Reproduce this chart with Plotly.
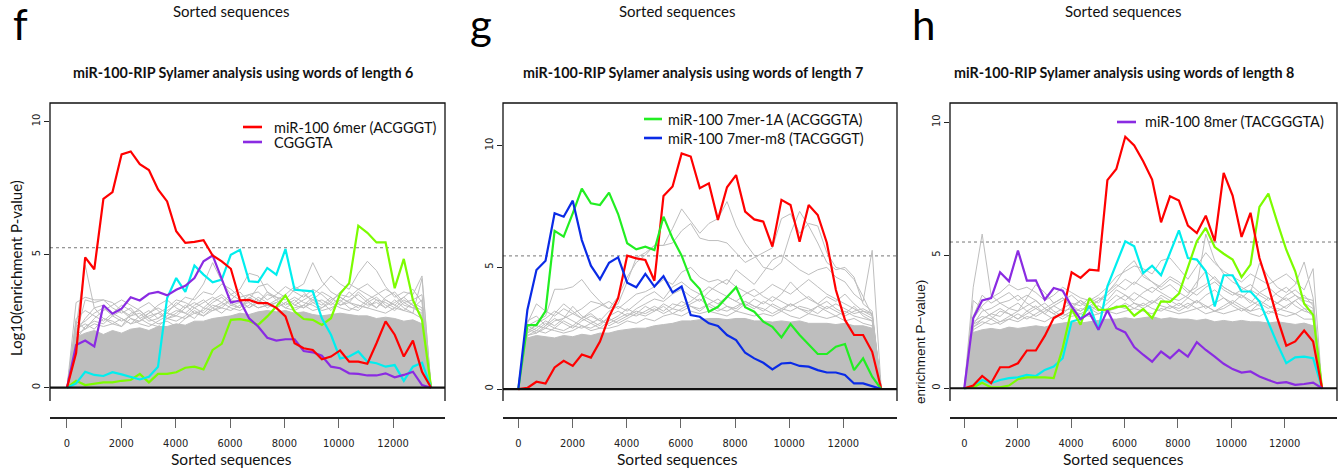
import plotly.graph_objects as go

W, H = 1340, 472

# ---------------- data ----------------
SEQ_POS = [0, 335, 670, 1005, 1340, 1675, 2010, 2345, 2680, 3015, 3350, 3685, 4020,
           4355, 4690, 5025, 5360, 5695, 6030, 6365, 6700, 7035, 7370, 7705, 8040,
           8375, 8710, 9045, 9380, 9715, 10050, 10385, 10720, 11055, 11390, 11725,
           12060, 12395, 12730, 13065, 13400]
X_TICKS = [0, 2000, 4000, 6000, 8000, 10000, 12000]
Y_TICKS = [0, 5, 10]

# panel f (words of length 6)
f_red = [0, 1.3, 4.9, 4.45, 7.1, 7.35, 8.77, 8.88, 8.4, 8.18, 7.45, 7.0, 5.88, 5.44, 5.48, 5.54, 4.97, 4.75, 4.47, 3.28, 3.3, 3.18, 3.18, 3.0, 2.68, 1.67, 1.48, 1.42, 1.07, 1.17, 1.4, 0.98, 0.98, 0.9, 1.67, 2.49, 1.99, 1.17, 1.77, 0.6, 0]
f_purple = [0, 1.6, 1.77, 1.55, 3.1, 2.78, 2.97, 3.4, 3.28, 3.53, 3.6, 3.47, 3.68, 3.83, 4.12, 4.75, 4.97, 4.06, 3.2, 3.28, 2.61, 2.3, 1.88, 1.77, 1.82, 1.82, 1.38, 1.33, 1.2, 0.79, 0.73, 0.54, 0.52, 0.46, 0.46, 0.54, 0.39, 0.48, 0.6, 0.1, 0]
f_cyan = [0, 0.16, 0.6, 0.48, 0.44, 0.58, 0.5, 0.41, 0.31, 0.41, 0.79, 3.37, 4.12, 3.6, 4.59, 4.25, 3.96, 4.06, 5.0, 5.18, 4.0, 3.97, 4.5, 4.25, 5.21, 3.68, 3.66, 3.62, 2.61, 1.99, 1.1, 1.17, 1.36, 0.98, 0.92, 0.79, 0.85, 0.26, 0.79, 0.94, 0]
f_green = [0, 0.26, 0.1, 0.14, 0.2, 0.2, 0.26, 0.29, 0.52, 0.2, 0.52, 0.52, 0.58, 0.75, 0.79, 0.69, 1.42, 1.65, 2.55, 2.58, 2.51, 2.36, 2.68, 3.05, 3.47, 2.86, 2.58, 2.55, 2.36, 2.61, 3.53, 3.93, 6.09, 5.82, 5.46, 5.46, 3.74, 4.84, 3.3, 2.55, 0]
f_core = [0, 1.9, 2.05, 2.15, 2.0, 2.15, 2.05, 2.2, 2.25, 2.15, 2.3, 2.3, 2.4, 2.35, 2.5, 2.5, 2.6, 2.65, 2.7, 2.8, 2.75, 2.85, 2.9, 2.85, 2.9, 2.8, 2.85, 2.75, 2.7, 2.75, 2.8, 2.75, 2.7, 2.7, 2.6, 2.65, 2.6, 2.5, 2.55, 2.4, 0]
f_gray1 = [0, 3.2, 3.4, 3.3, 3.3, 3.2, 2.9, 2.7, 2.8, 2.5, 2.6, 2.9, 3.1, 3.4, 3.3, 3.6, 3.5, 3.9, 3.7, 3.4, 3.5, 3.6, 3.3, 3.5, 3.8, 3.6, 3.4, 3.7, 3.5, 3.2, 3.6, 3.9, 3.7, 3.5, 3.3, 3.2, 3.0, 3.3, 3.1, 2.9, 0]
f_gray2 = [0, 2.4, 4.6, 3.0, 2.6, 2.4, 2.3, 2.6, 2.5, 2.8, 3.0, 2.8, 3.2, 3.0, 3.4, 3.9, 4.7, 4.0, 3.5, 3.7, 4.3, 4.2, 3.6, 3.4, 3.3, 3.7, 3.9, 4.7, 4.0, 3.6, 3.4, 3.2, 3.6, 3.3, 3.0, 3.4, 3.6, 3.2, 3.0, 3.3, 0]
f_gray3 = [0, 2.1, 2.6, 3.0, 3.1, 2.8, 2.6, 2.4, 2.7, 2.9, 2.6, 2.8, 2.7, 3.0, 3.2, 3.0, 3.3, 3.5, 3.2, 3.0, 3.3, 3.8, 3.9, 3.6, 3.4, 3.1, 3.3, 3.5, 3.8, 4.2, 3.9, 3.7, 4.3, 4.75, 4.4, 3.8, 3.4, 3.6, 3.5, 4.2, 0]
f_gray4 = [0, 1.8, 2.3, 2.5, 2.4, 2.7, 2.9, 2.6, 2.4, 2.3, 2.5, 2.7, 2.9, 2.8, 2.6, 3.0, 2.9, 3.1, 3.3, 3.6, 3.2, 3.0, 3.1, 3.3, 3.5, 3.8, 3.6, 3.2, 3.0, 3.3, 3.5, 3.4, 3.7, 3.9, 3.6, 3.3, 3.1, 3.4, 3.7, 3.2, 0]
f_gray5 = [0, 2.0, 3.3, 3.2, 3.3, 3.0, 2.8, 3.0, 2.6, 2.4, 2.3, 2.6, 2.5, 2.7, 3.0, 3.2, 3.4, 3.2, 3.0, 2.9, 3.1, 3.4, 3.2, 3.0, 3.2, 3.4, 3.2, 3.1, 2.9, 3.0, 3.2, 3.6, 3.3, 3.1, 3.2, 3.0, 3.3, 3.0, 2.8, 4.1, 0]
f_gray6 = [0, 2.2, 2.4, 2.2, 2.6, 2.5, 2.3, 2.8, 2.9, 2.6, 2.4, 2.5, 2.3, 2.6, 2.9, 2.7, 3.0, 2.8, 3.1, 3.0, 3.4, 3.2, 3.5, 3.4, 3.1, 3.3, 3.0, 3.3, 3.6, 3.4, 3.1, 3.2, 3.0, 3.3, 3.5, 3.7, 3.5, 3.1, 3.0, 2.8, 0]
f_gray7 = [0, 2.6, 2.9, 2.7, 2.5, 2.8, 3.1, 2.9, 2.6, 2.8, 3.1, 3.3, 3.0, 2.8, 3.1, 3.3, 3.0, 3.2, 3.5, 3.3, 3.0, 3.2, 3.6, 3.3, 3.0, 3.2, 3.5, 3.3, 3.1, 3.4, 3.1, 3.3, 3.5, 3.2, 3.0, 3.3, 3.1, 2.9, 3.2, 3.0, 0]
f_gray8 = [0, 2.3, 2.5, 2.8, 3.0, 2.7, 2.5, 2.7, 3.0, 3.2, 2.9, 2.6, 2.8, 3.1, 2.8, 2.9, 3.2, 3.4, 3.1, 3.2, 3.0, 3.3, 3.1, 3.2, 3.4, 3.1, 3.0, 3.2, 3.3, 3.1, 3.4, 3.2, 3.1, 3.0, 3.3, 3.0, 3.2, 3.4, 3.1, 2.7, 0]
f_gray9 = [0, 2.0, 2.2, 2.4, 2.3, 2.4, 2.6, 2.4, 2.5, 2.7, 2.8, 2.6, 2.7, 2.6, 2.8, 2.7, 2.9, 3.0, 2.9, 3.1, 3.2, 3.0, 3.1, 3.0, 3.2, 3.0, 3.1, 2.9, 3.0, 3.2, 3.0, 2.9, 3.1, 3.0, 2.9, 2.8, 3.0, 2.9, 2.8, 2.6, 0]
f_gray10 = [0, 2.5, 2.2, 2.6, 2.9, 3.1, 3.3, 3.1, 2.9, 2.6, 2.8, 3.0, 3.3, 3.2, 3.0, 2.8, 3.1, 3.0, 3.3, 3.2, 3.5, 3.3, 3.0, 3.2, 3.0, 2.9, 3.1, 3.4, 3.2, 2.9, 3.3, 3.0, 2.9, 3.2, 3.4, 3.1, 2.9, 3.2, 3.3, 3.5, 0]
f_threshold = 5.26

# panel g (words of length 7)
g_red = [0, 0.05, 0.3, 0.23, 0.89, 1.16, 0.95, 1.42, 1.29, 1.95, 2.97, 3.73, 5.48, 5.37, 5.3, 4.45, 7.93, 8.32, 9.68, 9.55, 8.25, 8.45, 6.95, 8.29, 8.79, 7.29, 6.97, 6.88, 5.85, 7.77, 7.56, 6.05, 7.56, 7.15, 6.01, 4.07, 2.84, 2.22, 2.22, 1.53, 0]
g_green = [0, 2.63, 2.63, 3.2, 6.5, 6.26, 7.22, 8.23, 7.63, 7.56, 8.07, 7.19, 5.99, 5.74, 5.85, 5.71, 7.08, 6.19, 5.48, 4.51, 4.11, 3.18, 3.38, 3.79, 4.18, 3.36, 3.18, 2.77, 2.56, 2.12, 2.67, 2.22, 1.81, 1.44, 1.44, 1.74, 1.85, 0.78, 1.26, 0.51, 0]
g_blue = [0, 3.25, 4.89, 5.27, 7.22, 7.08, 7.74, 6.12, 5.07, 4.51, 5.19, 5.41, 4.37, 4.18, 4.73, 4.21, 4.64, 3.97, 4.21, 3.04, 2.97, 2.7, 2.59, 2.22, 2.01, 1.49, 1.26, 1.08, 0.81, 1.05, 1.08, 0.95, 0.92, 0.78, 0.68, 0.68, 0.58, 0.23, 0.23, 0.1, 0]
g_core = [0, 2.1, 2.2, 2.15, 2.1, 2.2, 2.15, 2.25, 2.2, 2.3, 2.3, 2.4, 2.45, 2.5, 2.5, 2.6, 2.65, 2.7, 2.8, 2.8, 2.85, 2.9, 2.9, 2.85, 2.9, 2.9, 2.8, 2.8, 2.75, 2.8, 2.75, 2.8, 2.7, 2.7, 2.7, 2.65, 2.7, 2.6, 2.6, 2.5, 0]
g_gray1 = [0, 2.4, 2.6, 2.5, 2.8, 2.9, 3.1, 3.3, 3.6, 3.5, 3.3, 3.8, 4.6, 5.2, 5.5, 5.9, 5.9, 6.6, 7.4, 6.9, 6.4, 6.8, 7.0, 7.7, 6.7, 6.0, 5.5, 5.0, 4.9, 5.2, 6.4, 7.3, 6.7, 6.0, 5.2, 4.9, 5.0, 4.6, 3.5, 3.2, 0]
g_gray2 = [0, 2.6, 2.8, 3.0, 4.1, 4.1, 4.2, 4.5, 4.0, 3.6, 3.3, 3.5, 4.4, 5.4, 5.6, 5.9, 5.9, 6.0, 6.5, 6.8, 6.2, 6.1, 6.1, 6.0, 5.6, 5.2, 5.4, 5.6, 5.8, 7.0, 7.2, 6.4, 6.8, 6.7, 5.6, 5.0, 4.9, 4.5, 3.8, 3.0, 0]
g_gray3 = [0, 2.7, 3.5, 3.2, 3.0, 3.3, 3.1, 2.9, 3.2, 3.4, 3.6, 3.3, 3.6, 3.9, 4.0, 4.2, 4.5, 4.3, 4.8, 5.0, 4.6, 4.4, 4.5, 4.3, 4.9, 4.6, 4.3, 4.8, 5.3, 5.5, 5.2, 4.9, 4.7, 4.9, 5.0, 4.6, 4.4, 3.9, 3.6, 5.7, 0]
g_gray4 = [0, 2.3, 2.5, 2.8, 2.6, 2.9, 3.4, 3.0, 2.8, 2.6, 3.0, 3.2, 3.0, 3.3, 3.5, 3.7, 3.6, 3.9, 4.1, 3.8, 3.6, 4.0, 4.3, 4.5, 4.2, 4.0, 3.8, 4.0, 4.3, 4.1, 3.9, 4.2, 4.5, 4.2, 3.9, 3.7, 3.5, 3.3, 3.1, 2.9, 0]
g_gray5 = [0, 2.5, 2.3, 2.6, 2.9, 2.7, 2.5, 2.8, 3.0, 2.8, 2.7, 2.9, 3.1, 3.0, 3.2, 3.4, 3.2, 3.5, 3.4, 3.6, 3.9, 3.7, 3.5, 3.8, 3.6, 3.4, 3.7, 3.5, 3.8, 3.6, 3.4, 3.6, 3.8, 3.5, 3.3, 3.5, 3.3, 3.1, 3.2, 3.0, 0]
g_gray6 = [0, 2.2, 2.4, 2.3, 2.5, 2.4, 2.6, 2.5, 2.7, 2.9, 2.6, 2.8, 3.0, 3.2, 3.1, 3.3, 3.1, 3.3, 3.2, 3.4, 3.3, 3.5, 3.3, 3.2, 3.4, 3.6, 3.4, 3.3, 3.1, 3.3, 3.5, 3.3, 3.2, 3.4, 3.2, 3.0, 3.2, 3.0, 2.9, 2.8, 0]
g_gray7 = [0, 2.6, 2.4, 2.7, 2.5, 2.8, 2.6, 2.9, 2.7, 2.5, 2.8, 3.0, 3.3, 3.1, 3.4, 3.2, 3.5, 3.3, 3.6, 3.4, 3.2, 3.5, 3.7, 3.4, 3.2, 3.5, 3.3, 3.6, 3.4, 3.2, 3.5, 3.3, 3.1, 3.4, 3.6, 3.3, 3.1, 3.4, 3.0, 2.8, 0]
g_gray8 = [0, 2.3, 2.7, 2.9, 3.2, 3.0, 2.8, 2.6, 2.5, 2.7, 2.9, 2.7, 2.9, 3.1, 3.0, 3.2, 3.4, 3.1, 3.3, 3.5, 3.7, 3.4, 3.2, 3.4, 3.3, 3.6, 3.4, 3.2, 3.5, 3.3, 3.2, 3.4, 3.3, 3.1, 3.4, 3.2, 3.0, 3.2, 3.3, 3.1, 0]
g_gray9 = [0, 2.2, 2.3, 2.5, 2.4, 2.3, 2.4, 2.6, 2.4, 2.5, 2.5, 2.6, 2.8, 2.7, 2.9, 2.8, 3.0, 3.1, 3.0, 3.2, 3.1, 3.2, 3.1, 3.0, 3.2, 3.1, 3.0, 3.1, 3.0, 3.2, 3.0, 2.9, 3.1, 3.0, 2.9, 3.0, 2.8, 2.9, 2.7, 2.6, 0]
g_gray10 = [0, 2.8, 3.0, 2.6, 3.1, 3.5, 3.2, 2.9, 3.1, 2.8, 3.2, 3.4, 3.2, 3.5, 3.8, 4.0, 3.7, 4.2, 4.4, 4.1, 3.9, 4.2, 4.0, 3.8, 3.6, 3.9, 4.1, 3.8, 3.6, 3.9, 4.4, 4.0, 3.7, 3.5, 3.8, 3.6, 3.9, 3.5, 3.2, 3.1, 0]
g_threshold = 5.47

# panel h (words of length 8)
h_red = [0, 0.1, 0.46, 0.19, 0.79, 0.79, 0.94, 1.42, 1.42, 1.97, 2.64, 2.83, 4.36, 4.15, 4.46, 4.43, 7.83, 8.25, 9.46, 9.13, 8.54, 7.85, 6.24, 7.22, 7.06, 6.12, 5.84, 6.49, 5.53, 8.1, 7.25, 5.69, 6.6, 4.9, 3.83, 2.64, 1.6, 1.76, 2.17, 1.76, 0]
h_cyan = [0, 0.03, 0.31, 0.19, 0.31, 0.38, 0.41, 0.5, 0.46, 0.69, 0.82, 1.13, 2.51, 2.6, 3.1, 2.2, 3.83, 4.71, 5.53, 5.34, 4.33, 4.61, 4.25, 5.09, 5.94, 4.9, 4.84, 4.4, 3.08, 4.25, 4.25, 3.64, 3.64, 3.27, 2.45, 1.67, 0.94, 1.16, 1.19, 1.13, 0]
h_green = [0, 0.03, 0.21, 0.03, 0.03, 0.1, 0.34, 0.41, 0.41, 0.41, 0.38, 1.51, 2.98, 2.39, 3.39, 2.95, 2.95, 3.05, 3.1, 2.73, 2.98, 2.64, 3.27, 3.25, 3.56, 4.59, 5.53, 6.03, 5.31, 5.06, 4.84, 4.18, 4.65, 6.82, 7.32, 6.24, 5.21, 4.4, 3.18, 2.76, 0]
h_purple = [0, 2.64, 3.3, 3.39, 4.36, 4.02, 5.18, 4.05, 4.06, 3.33, 3.77, 3.67, 3.08, 2.6, 2.83, 2.2, 2.93, 2.26, 2.1, 1.55, 1.26, 1.0, 1.38, 1.13, 1.44, 1.19, 1.73, 1.44, 1.19, 0.92, 0.72, 0.59, 0.63, 0.44, 0.31, 0.19, 0.23, 0.13, 0.16, 0.21, 0]
h_core = [0, 2.1, 2.2, 2.25, 2.2, 2.3, 2.25, 2.3, 2.35, 2.3, 2.4, 2.45, 2.5, 2.45, 2.5, 2.55, 2.6, 2.6, 2.65, 2.6, 2.65, 2.7, 2.6, 2.65, 2.6, 2.6, 2.55, 2.6, 2.5, 2.55, 2.5, 2.55, 2.5, 2.5, 2.45, 2.5, 2.45, 2.4, 2.45, 2.35, 0]
h_gray1 = [0, 3.8, 5.8, 3.5, 3.2, 3.0, 2.9, 3.1, 3.3, 3.0, 2.8, 3.0, 3.2, 3.1, 3.4, 3.2, 3.6, 4.0, 4.5, 4.8, 4.2, 4.0, 3.8, 4.1, 3.9, 3.6, 3.8, 5.8, 4.8, 4.3, 4.0, 3.8, 3.6, 4.7, 4.2, 3.8, 3.6, 3.9, 4.75, 3.4, 0]
h_gray2 = [0, 2.6, 3.1, 3.4, 3.6, 3.9, 3.7, 3.8, 3.6, 3.3, 3.5, 3.8, 3.6, 3.4, 3.3, 3.5, 3.8, 4.2, 4.4, 4.6, 4.5, 4.3, 4.8, 4.9, 4.5, 4.1, 4.6, 5.1, 4.7, 4.4, 4.2, 4.0, 4.3, 4.1, 3.9, 4.1, 4.3, 4.0, 3.7, 4.5, 0]
h_gray3 = [0, 2.4, 2.9, 3.0, 3.2, 3.3, 3.5, 3.2, 3.0, 2.8, 3.1, 3.3, 3.5, 3.2, 3.0, 3.3, 3.5, 3.8, 4.1, 3.9, 4.3, 4.0, 3.7, 3.9, 3.6, 3.4, 3.7, 3.9, 4.2, 3.8, 3.6, 3.4, 3.7, 3.5, 3.3, 3.6, 3.8, 3.5, 3.2, 3.0, 0]
h_gray4 = [0, 2.3, 2.6, 2.8, 2.7, 3.0, 3.2, 2.9, 2.7, 2.9, 3.1, 2.9, 3.0, 3.3, 3.1, 2.9, 3.2, 3.5, 3.3, 3.6, 3.4, 3.2, 3.5, 3.3, 3.1, 3.4, 3.2, 3.5, 3.7, 3.4, 3.2, 3.5, 3.3, 3.1, 3.4, 3.2, 3.0, 3.3, 3.5, 3.1, 0]
h_gray5 = [0, 2.5, 2.7, 2.6, 2.9, 2.8, 2.6, 2.8, 3.0, 3.2, 2.9, 2.7, 2.9, 2.8, 3.0, 3.1, 2.9, 3.1, 3.0, 3.2, 3.1, 3.3, 3.1, 3.0, 3.2, 3.0, 3.3, 3.1, 2.9, 3.1, 3.3, 3.1, 2.9, 3.2, 3.0, 3.2, 3.4, 3.1, 2.9, 2.8, 0]
h_gray6 = [0, 3.3, 3.0, 2.7, 2.5, 2.7, 2.9, 3.4, 3.9, 3.6, 3.2, 3.4, 3.0, 2.9, 3.2, 3.4, 3.3, 3.7, 3.5, 3.3, 3.6, 3.8, 3.6, 3.4, 3.3, 3.5, 4.0, 4.4, 4.1, 3.8, 3.6, 3.5, 3.2, 3.6, 3.8, 3.5, 3.3, 3.5, 3.3, 3.2, 0]
h_gray7 = [0, 2.4, 2.6, 2.8, 3.0, 2.8, 2.6, 2.9, 3.1, 2.8, 2.6, 2.8, 3.1, 3.3, 3.0, 2.8, 3.0, 3.3, 3.5, 3.2, 3.0, 3.2, 3.4, 3.1, 2.9, 3.1, 3.3, 3.0, 3.2, 3.4, 3.1, 2.9, 3.1, 3.3, 3.1, 2.9, 3.1, 3.3, 3.0, 2.9, 0]
h_gray8 = [0, 2.2, 2.4, 2.6, 2.4, 2.6, 2.8, 2.6, 2.8, 3.0, 2.8, 2.6, 2.8, 3.0, 2.9, 3.1, 2.9, 3.0, 3.2, 3.0, 3.2, 3.0, 2.9, 3.1, 3.0, 3.2, 3.0, 3.1, 2.9, 3.0, 3.2, 3.0, 2.9, 3.0, 2.8, 3.0, 2.9, 2.8, 3.0, 2.7, 0]
h_gray9 = [0, 2.7, 3.5, 3.2, 3.4, 3.6, 3.3, 3.5, 3.3, 3.0, 3.2, 3.4, 3.1, 2.9, 3.1, 3.3, 3.6, 3.9, 3.7, 4.0, 3.8, 3.6, 3.9, 4.2, 4.0, 3.7, 3.5, 3.8, 4.0, 3.7, 3.5, 3.7, 3.9, 3.6, 3.4, 3.2, 3.5, 3.7, 3.4, 3.3, 0]
h_gray10 = [0, 2.3, 2.5, 2.4, 2.5, 2.6, 2.5, 2.7, 2.6, 2.5, 2.7, 2.8, 2.7, 2.8, 2.7, 2.8, 2.9, 2.8, 2.9, 3.0, 2.9, 2.8, 3.0, 2.9, 2.8, 2.9, 3.0, 2.8, 2.9, 2.8, 2.9, 3.0, 2.8, 2.7, 2.9, 2.8, 2.7, 2.8, 2.6, 2.6, 0]
h_threshold = 5.5

TITLES = ["miR-100-RIP Sylamer analysis using words of length 6",
          "miR-100-RIP Sylamer analysis using words of length 7",
          "miR-100-RIP Sylamer analysis using words of length 8"]
PANEL_LETTERS = ["f", "g", "h"]
X_TITLE = "Sorted sequences"
Y_TITLE = "Log10(enrichment P-value)"

# ---------------- styling ----------------
RED = "#FF0000"
PURPLE = "#8A2BE2"
CYAN = "#00EEEE"
LGREEN = "#7CFC00"
GGREEN = "#22EE22"
BLUE = "#0A2BE6"
GRAY = "#BEBEBE"

CAL = "Lato, 'Open Sans', 'Noto Sans', sans-serif"
NARROW = "'Liberation Sans Narrow', 'DejaVu Sans Condensed', 'Liberation Sans', Arial, sans-serif"
HELV = "'Liberation Sans', Arial, sans-serif"


def px(x):
    return x / W


def py(y):
    return 1 - y / H


panels = [
    dict(ax="", xdom=(50, 445), xr=(-625, 13911), yr=(-0.5, 10.7), thr=f_threshold,
         core=f_core,
         grays=[f_gray1, f_gray2, f_gray3, f_gray4, f_gray5, f_gray6, f_gray7, f_gray8, f_gray9, f_gray10],
         lines=[(f_green, LGREEN), (f_cyan, CYAN), (f_purple, PURPLE), (f_red, RED)],
         legend=[("miR-100 6mer (ACGGGT)", RED, 127), ("CGGGTA", PURPLE, 142)],
         leg_x=(243, 262, 272), title_x=243, letter_x=20, xt_x=231),
    dict(ax="2", xdom=(503, 897), xr=(-565, 13981), yr=(-0.49, 11.75), thr=g_threshold,
         core=g_core,
         grays=[g_gray1, g_gray2, g_gray3, g_gray4, g_gray5, g_gray6, g_gray7, g_gray8, g_gray9, g_gray10],
         lines=[(g_red, RED), (g_green, GGREEN), (g_blue, BLUE)],
         legend=[("miR-100 7mer-1A (ACGGGTA)", GGREEN, 119), ("miR-100 7mer-m8 (TACGGGT)", BLUE, 138)],
         leg_x=(644, 662, 666), title_x=693, letter_x=481, xt_x=677),
    dict(ax="3", xdom=(950, 1337), xr=(-535, 13960), yr=(-0.48, 10.73), thr=h_threshold,
         core=h_core,
         grays=[h_gray1, h_gray2, h_gray3, h_gray4, h_gray5, h_gray6, h_gray7, h_gray8, h_gray9, h_gray10],
         lines=[(h_cyan, CYAN), (h_green, LGREEN), (h_red, RED), (h_purple, PURPLE)],
         legend=[("miR-100 8mer (TACGGGTA)", PURPLE, 122)],
         leg_x=(1117, 1136, 1143), title_x=1124, letter_x=923, xt_x=1123),
]

fig = go.Figure()
shapes = []
annotations = []
layout = {}

Y_TOP, Y_BOT, X_AXIS_Y = 103, 401, 418

for p in panels:
    xa = "x" + p["ax"]
    ya = "y" + p["ax"]
    # dense grey background
    fig.add_trace(go.Scatter(x=SEQ_POS, y=p["core"], mode="lines", fill="tozeroy",
                             fillcolor=GRAY, line=dict(color=GRAY, width=1),
                             xaxis=xa, yaxis=ya, showlegend=False, hoverinfo="skip"))
    for g in p["grays"]:
        fig.add_trace(go.Scatter(x=SEQ_POS, y=g, mode="lines",
                                 line=dict(color=GRAY, width=1),
                                 xaxis=xa, yaxis=ya, showlegend=False, hoverinfo="skip"))
    for vals, col in p["lines"]:
        fig.add_trace(go.Scatter(x=SEQ_POS, y=vals, mode="lines",
                                 line=dict(color=col, width=2.2),
                                 xaxis=xa, yaxis=ya, showlegend=False))

    x0, x1 = p["xdom"]
    layout["xaxis" + p["ax"]] = dict(
        domain=[px(x0), px(x1)], range=list(p["xr"]), anchor="free", position=py(X_AXIS_Y),
        showline=True, linecolor="#222", linewidth=1.6, showgrid=False, zeroline=False,
        tickvals=X_TICKS, ticktext=[str(v) for v in X_TICKS], ticks="outside", ticklen=9,
        tickwidth=1.3, tickcolor="#666", tickfont=dict(family=NARROW, size=11, color="#222"),
        ticklabelstandoff=6)
    layout["yaxis" + p["ax"]] = dict(
        domain=[py(Y_BOT), py(Y_TOP)], range=list(p["yr"]), anchor=xa,
        showline=False, showgrid=False, zeroline=False,
        tickvals=Y_TICKS, ticktext=[str(v) for v in Y_TICKS], ticks="outside", ticklen=5,
        tickwidth=1, tickcolor="#222", tickangle=-90,
        tickfont=dict(family=NARROW, size=11, color="#222"))

    # frame (left, top, right)
    shapes.append(dict(type="path", xref="paper", yref="paper",
                       path=f"M {px(x0)},{py(Y_BOT)} L {px(x0)},{py(Y_TOP)} L {px(x1)},{py(Y_TOP)} L {px(x1)},{py(Y_BOT)}",
                       line=dict(color="#111", width=1.3)))
    # zero line
    shapes.append(dict(type="line", xref=xa + " domain", yref=ya, x0=0, x1=1, y0=0, y1=0,
                       line=dict(color="#111", width=2.2)))
    # threshold dotted line
    shapes.append(dict(type="line", xref=xa + " domain", yref=ya, x0=0, x1=1,
                       y0=p["thr"], y1=p["thr"], layer="below",
                       line=dict(color="#777", width=1, dash="dot")))
    # legend
    lx0, lx1, tx = p["leg_x"]
    for text, col, yy in p["legend"]:
        shapes.append(dict(type="line", xref="paper", yref="paper", x0=px(lx0), x1=px(lx1),
                           y0=py(yy), y1=py(yy), line=dict(color=col, width=2.6)))
        annotations.append(dict(text=text, xref="paper", yref="paper", x=px(tx), y=py(yy),
                                xanchor="left", yanchor="middle", showarrow=False,
                                font=dict(family=CAL, size=14.5, color="#111")))

# titles, letters, axis titles
for i, p in enumerate(panels):
    annotations.append(dict(text="<b>" + TITLES[i] + "</b>", xref="paper", yref="paper",
                            x=px(p["title_x"]), y=py(72), xanchor="center", yanchor="middle",
                            showarrow=False, font=dict(family=CAL, size=14.3, color="#111")))
    annotations.append(dict(text=PANEL_LETTERS[i], xref="paper", yref="paper",
                            x=px(p["letter_x"]), y=py(24), xanchor="center", yanchor="middle",
                            showarrow=False, font=dict(family=CAL, size=42, color="#000")))
    annotations.append(dict(text=X_TITLE, xref="paper", yref="paper",
                            x=px(p["xt_x"]), y=py(459), xanchor="center", yanchor="middle",
                            showarrow=False, font=dict(family=CAL, size=15.5, color="#111")))
    # axis title of the panel above (cropped in the original figure)
    annotations.append(dict(text=X_TITLE, xref="paper", yref="paper",
                            x=px(p["xt_x"]), y=1, xanchor="center", yanchor="top",
                            showarrow=False, font=dict(family=CAL, size=15, color="#111")))

annotations.append(dict(text=Y_TITLE, xref="paper", yref="paper", x=px(16), y=py(268),
                        xanchor="center", yanchor="middle", textangle=-90, showarrow=False,
                        font=dict(family=CAL, size=15, color="#111")))
annotations.append(dict(text="enrichment P\u2212value)", xref="paper", yref="paper",
                        x=px(920), y=py(342), xanchor="center", yanchor="middle",
                        textangle=-90, showarrow=False,
                        font=dict(family=HELV, size=13.5, color="#111")))

fig.update_layout(width=W, height=H, autosize=False, margin=dict(l=0, r=0, t=0, b=0),
                  paper_bgcolor="white", plot_bgcolor="white", showlegend=False,
                  shapes=shapes, annotations=annotations, **layout)

fig.write_html("out.html")
